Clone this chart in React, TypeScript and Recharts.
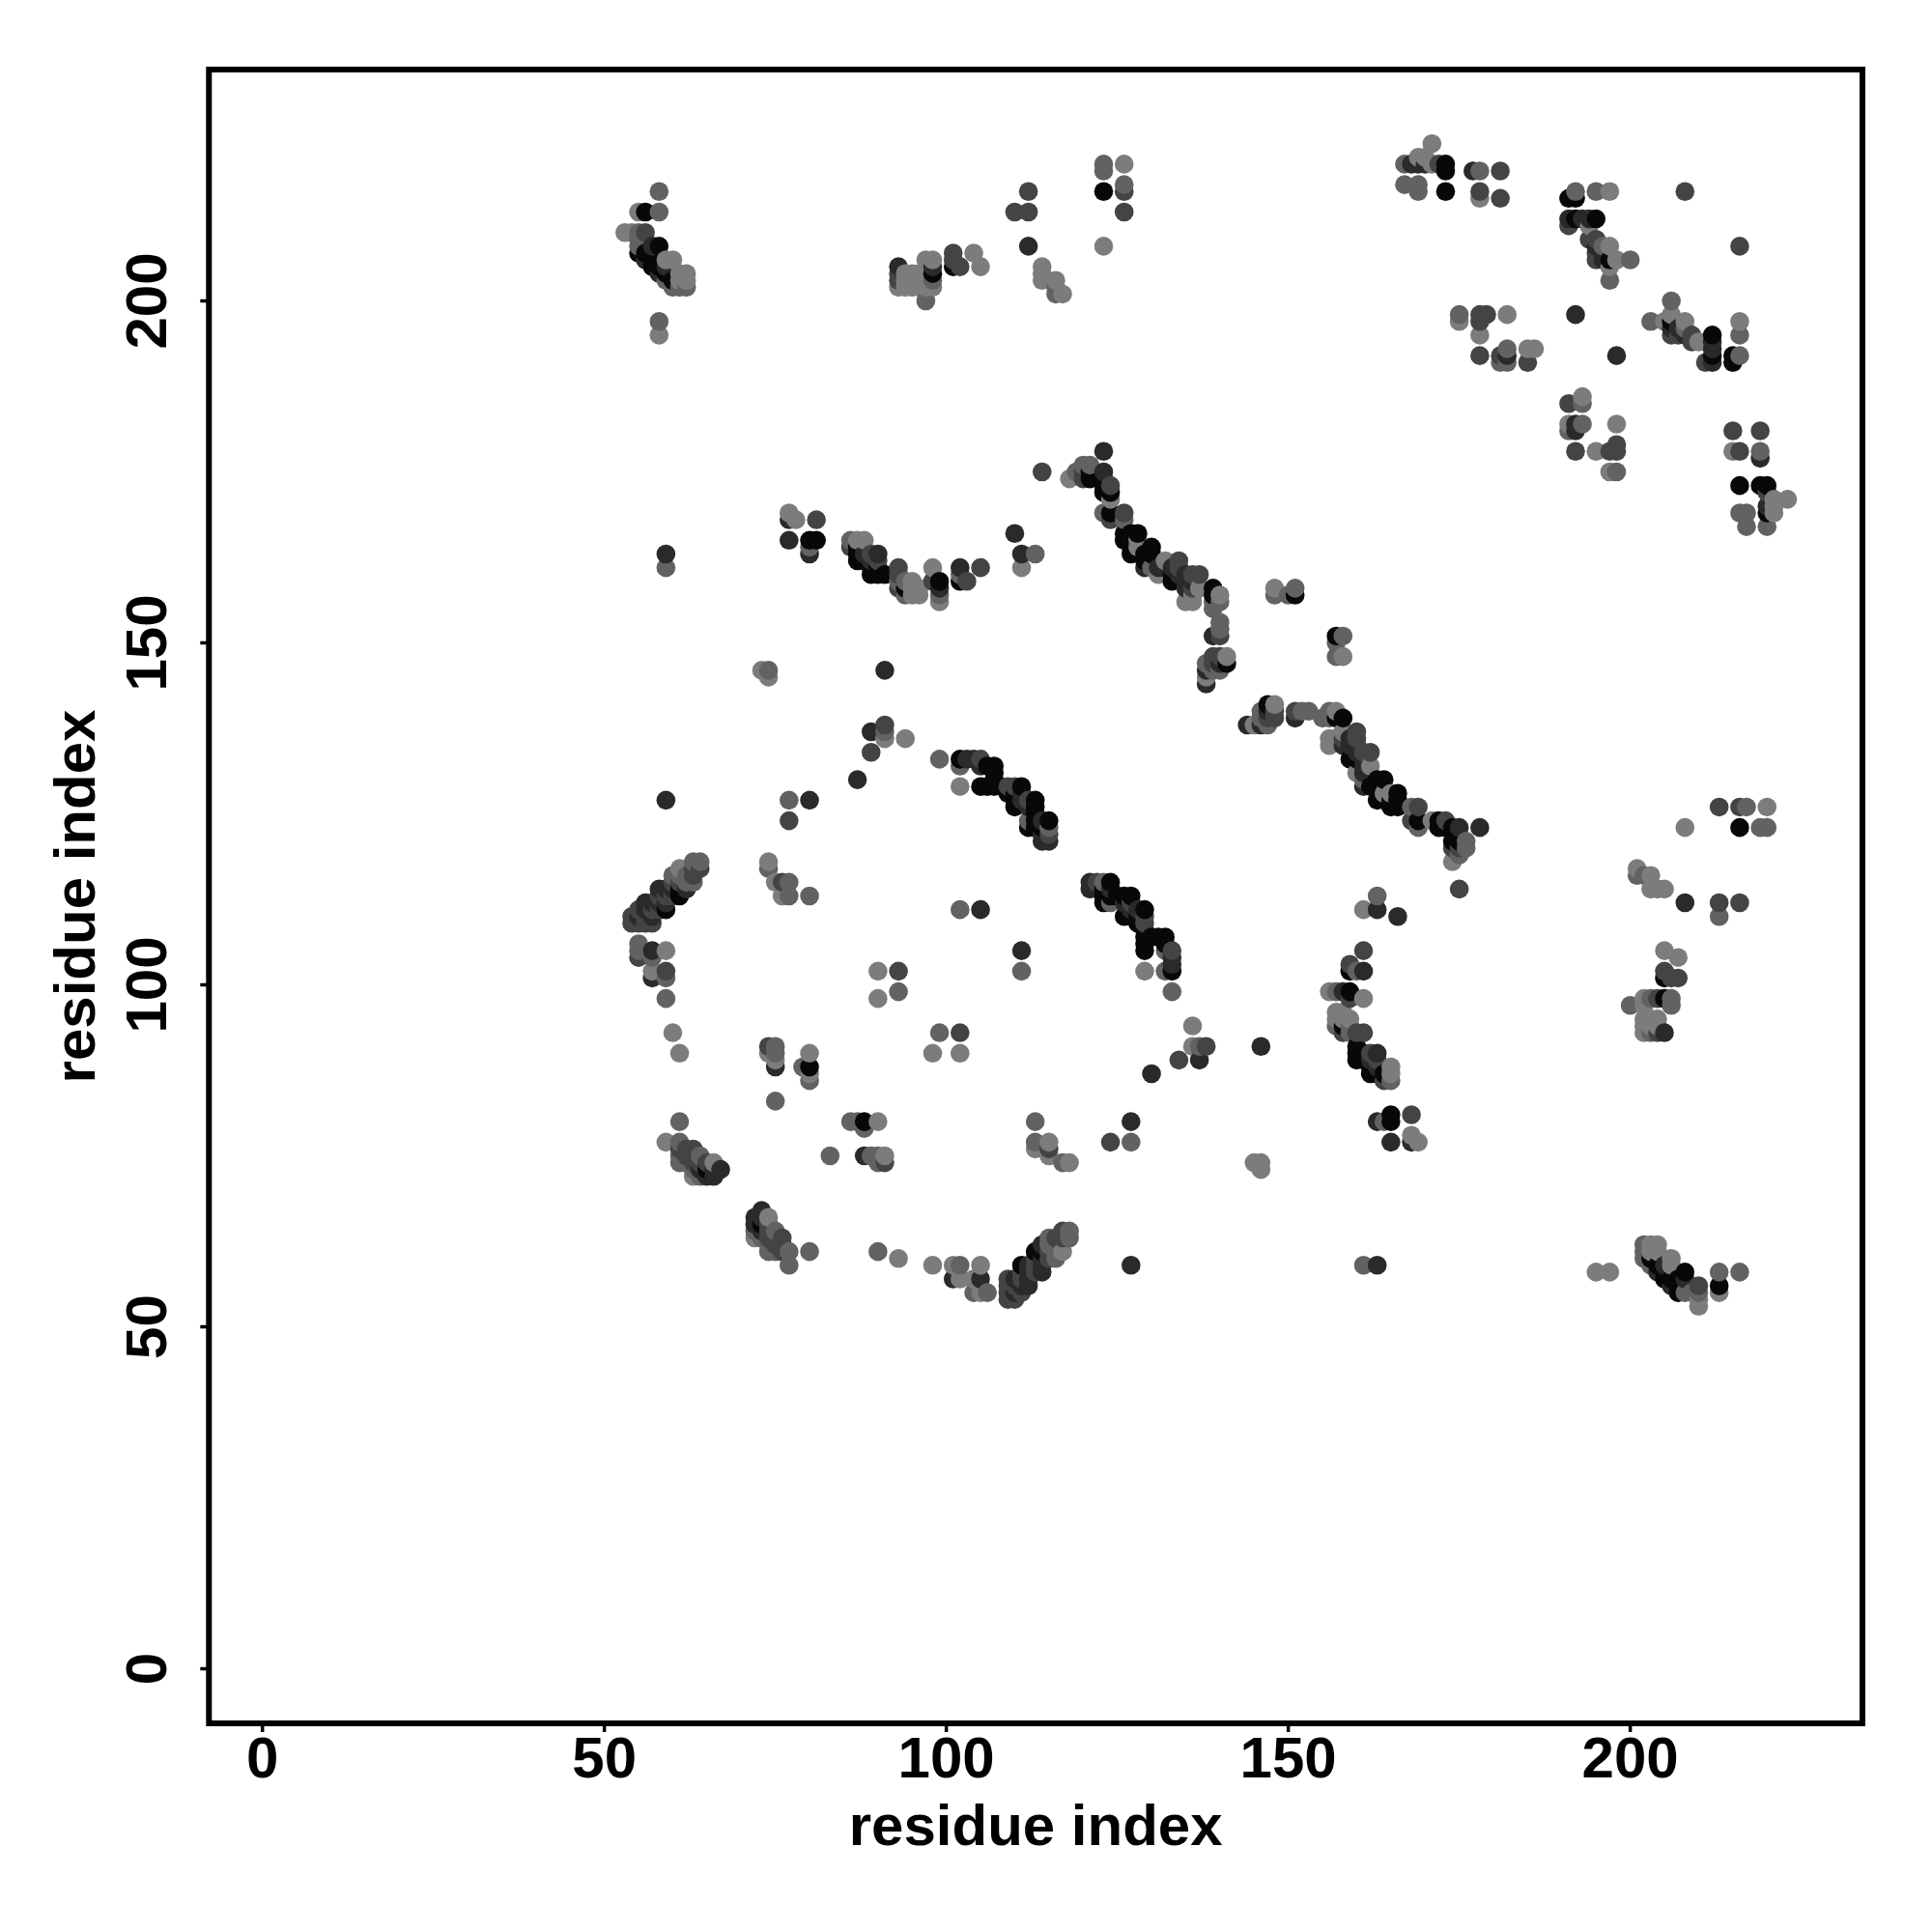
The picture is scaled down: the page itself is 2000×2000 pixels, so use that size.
import { ScatterChart, Scatter, XAxis, YAxis, ReferenceArea } from 'recharts';

type Contact = [number, number, number];

// contact strength classes, 1 = strongest
const SHADES = ['', '#080808', '#2a2a2a', '#444444', '#626262', '#7c7c7c'];
const TICKS = [0, 50, 100, 150, 200];
const X_DOMAIN = [-7.82, 233.95];
const Y_DOMAIN = [-7.98, 233.83];

const ridgeA: Contact[] = [[58,216,4],[55,213,5],[56,213,1],[58,213,4],[53,210,5],[54,210,5],[55,210,4],[56,210,3],[55,209,4],[55,208,4],[57,208,2],[58,208,1],[55,207,1],[56,207,1],[57,207,1],[56,206,2],[57,206,1],[59,206,5],[60,206,5],[57,205,1],[58,205,1],[59,205,2],[58,204,2],[59,204,1],[61,204,5],[62,204,5],[59,203,4],[60,203,1],[61,203,5],[62,203,5],[60,202,4],[61,202,4],[62,202,4],[58,197,4],[58,195,5]];
const ridgeAm: Contact[] = [[216,58,4],[213,58,4],[213,56,1],[213,55,5],[210,53,5],[210,54,5],[210,55,4],[210,56,3],[209,55,4],[208,55,4],[208,57,2],[208,58,1],[207,55,1],[207,56,1],[207,57,1],[206,56,2],[206,57,1],[206,59,5],[206,60,5],[205,57,1],[205,58,1],[205,59,2],[204,58,2],[204,59,1],[204,61,5],[204,62,5],[203,59,4],[203,60,1],[203,61,5],[203,62,5],[202,60,4],[202,61,4],[202,62,4],[197,58,5],[195,58,5]];
const blockB: Contact[] = [[93,205,2],[93,204,3],[93,203,3],[93,202,5],[94,204,5],[94,203,5],[94,202,5],[95,204,5],[95,203,5],[95,202,5],[96,204,5],[96,202,5],[97,206,5],[98,206,5],[98,205,2],[98,204,1],[98,203,4],[98,202,5],[97,202,5],[97,200,4],[101,207,3],[101,206,3],[101,205,1],[102,205,3],[104,207,5],[105,205,5]];
const blockBm: Contact[] = [[205,93,2],[204,93,3],[203,93,4],[202,93,5],[204,95,5],[203,95,5],[202,95,5],[204,94,5],[203,94,5],[202,94,5],[206,97,4],[206,98,4],[205,98,1],[204,98,3],[203,98,4],[202,98,5],[202,97,5],[200,97,4],[207,101,3],[206,101,3],[205,101,1],[205,102,3],[207,104,5],[205,105,5]];
const groupC: Contact[] = [[112,216,3],[110,213,3],[112,213,3],[112,208,2],[114,205,5],[114,204,5],[114,203,5],[116,203,5],[116,202,4],[116,201,4],[117,201,5]];
const groupCm: Contact[] = [[216,112,3],[213,110,4],[213,112,3],[208,112,2],[205,114,5],[204,114,5],[203,114,5],[203,116,5],[202,116,4],[201,116,4],[201,117,5]];
const groupD: Contact[] = [[123,220,4],[123,219,4],[123,216,1],[126,220,5],[126,217,4],[126,216,3],[126,213,3],[123,208,5]];
const groupDm: Contact[] = [[220,123,4],[219,123,4],[216,123,1],[220,126,5],[217,126,4],[216,126,3],[213,126,3],[208,123,5]];
const groupE: Contact[] = [[171,223,5],[167,220,4],[169,221,5],[170,221,5],[168,220,2],[169,220,2],[170,220,2],[171,220,5],[172,220,3],[173,220,1],[173,219,1],[167,217,4],[169,217,4],[169,216,4],[173,216,1],[177,219,2],[178,219,4],[181,219,3],[178,216,3],[178,215,5],[181,215,3]];
const groupEm: Contact[] = [[223,171,5],[220,167,4],[221,169,5],[221,170,5],[220,169,1],[220,170,2],[221,171,5],[220,172,3],[220,173,1],[219,173,1],[217,167,4],[217,169,4],[216,169,4],[216,173,1],[219,177,2],[219,178,4],[219,181,3],[216,178,3],[215,178,5],[215,181,3]];
const ridgeF: Contact[] = [[192,216,4],[195,216,4],[197,216,5],[191,215,1],[192,215,1],[191,212,2],[192,212,1],[193,212,2],[194,212,2],[195,212,1],[191,211,3],[194,211,5],[194,209,3],[195,209,3],[195,208,2],[196,208,4],[197,208,5],[195,207,3],[196,207,2],[195,206,3],[196,206,2],[197,206,1],[198,206,5],[200,206,4],[197,205,5],[197,203,4],[208,216,3]];
const ridgeFm: Contact[] = [[216,192,4],[216,195,4],[216,197,5],[215,191,1],[215,192,1],[212,191,2],[212,192,1],[212,193,2],[212,194,2],[212,195,1],[211,191,3],[211,194,5],[209,194,3],[209,195,3],[208,195,2],[208,196,4],[208,197,5],[207,195,3],[207,196,2],[206,195,3],[206,196,2],[206,197,1],[206,198,5],[206,200,4],[205,197,5],[203,197,4],[216,208,3],[210,194,5]];
const groupG: Contact[] = [[175,198,4],[175,197,5],[178,198,3],[179,198,3],[178,197,3],[182,198,5],[178,195,5],[178,192,3],[181,192,3],[182,193,4],[182,192,2],[181,191,4],[182,191,4],[185,193,5],[186,193,5],[185,191,3],[192,198,2]];
const groupGm: Contact[] = [[198,175,4],[197,175,5],[198,178,3],[198,179,3],[197,178,3],[198,182,5],[195,178,5],[192,178,3],[192,181,2],[193,182,4],[192,182,2],[191,181,4],[191,182,5],[193,185,4],[193,186,5],[191,185,3],[198,192,2]];
const ridgeI: Contact[] = [[114,175,3],[118,174,5],[119,175,4],[120,176,4],[121,176,4],[120,175,3],[120,174,3],[121,175,1],[121,174,1],[123,178,2],[123,175,2],[123,174,1],[123,173,1],[123,172,1],[124,173,3],[124,172,1],[124,171,5],[123,169,4],[124,169,1],[124,168,3],[126,169,3],[126,168,4],[126,166,1],[126,165,1],[127,166,1],[128,166,1],[127,165,1],[127,164,1],[127,163,1],[128,165,5],[128,164,5],[130,164,1],[130,163,1],[129,163,1],[129,162,1],[129,161,2],[130,161,4],[131,161,2],[131,160,5],[132,162,5],[132,161,2],[133,160,1],[133,159,1],[133,161,2],[134,162,3],[134,161,3],[134,160,2],[135,160,2],[135,159,2],[135,158,2],[136,160,3],[137,160,3],[136,159,2],[136,158,3],[135,156,5],[136,156,5],[136,157,5],[137,158,5],[139,158,1],[139,157,1],[140,157,5],[139,156,4],[140,156,4],[139,155,4],[140,153,4],[140,152,4],[139,151,2],[140,151,3],[141,148,5],[140,148,3],[139,148,3],[141,147,1],[140,147,2],[139,147,3],[138,147,4],[140,146,4],[139,146,4],[138,146,2],[138,145,5],[138,144,2]];
const ridgeIm: Contact[] = [[175,114,3],[174,118,5],[175,119,4],[176,120,4],[176,121,4],[175,120,3],[174,120,3],[175,121,1],[174,121,1],[178,123,2],[175,123,2],[174,123,1],[173,123,1],[172,123,1],[173,124,3],[172,124,1],[171,124,5],[169,123,4],[169,124,1],[168,124,3],[169,126,3],[168,126,4],[166,126,1],[165,126,1],[166,127,1],[166,128,1],[165,127,1],[164,127,1],[163,127,1],[165,128,5],[164,128,5],[164,130,1],[163,130,1],[163,129,1],[162,129,1],[161,129,2],[161,130,4],[161,131,2],[160,131,5],[162,132,5],[161,132,2],[160,133,1],[159,133,1],[161,133,2],[162,134,3],[161,134,3],[160,134,2],[160,135,2],[159,135,2],[158,135,2],[160,136,3],[160,137,3],[159,136,2],[158,136,3],[156,135,5],[156,136,5],[157,136,5],[158,137,5],[158,139,1],[157,139,1],[157,140,5],[156,139,4],[156,140,4],[155,139,4],[153,140,4],[152,140,4],[151,139,2],[151,140,3],[148,141,5],[148,140,3],[148,139,3],[147,141,1],[147,140,2],[147,139,3],[147,138,4],[146,140,4],[146,139,4],[146,138,2],[145,138,5],[144,138,2]];
const groupK: Contact[] = [[77,169,5],[78,168,5],[77,168,2],[81,168,3],[77,165,2],[80,165,1],[81,165,1],[80,164,4],[80,163,2]];
const groupKm: Contact[] = [[169,77,5],[168,78,5],[168,77,2],[168,81,3],[165,77,2],[165,80,1],[165,81,1],[164,80,4],[163,80,2]];
const arcL: Contact[] = [[86,165,4],[87,165,5],[88,165,5],[86,164,3],[87,164,1],[87,163,1],[88,163,2],[89,163,3],[90,163,2],[87,162,1],[88,162,1],[89,162,2],[90,162,3],[89,161,1],[90,161,1],[89,160,1],[90,160,1],[91,160,1],[93,161,3],[93,160,3],[93,159,4],[93,158,3],[94,159,4],[95,159,5],[94,158,1],[96,158,5],[95,158,5],[94,157,4],[95,157,5],[96,157,5],[98,161,5],[98,159,3],[99,159,1],[99,158,2],[99,157,4],[99,156,5],[102,161,2],[102,160,4],[102,159,1],[103,159,3],[105,161,3],[110,166,2],[111,163,2],[113,163,4],[111,161,5]];
const arcLm: Contact[] = [[165,86,4],[165,87,5],[165,88,5],[164,86,3],[164,87,1],[163,87,1],[163,88,2],[163,89,3],[163,90,2],[162,87,1],[162,88,1],[162,89,2],[162,90,3],[161,89,1],[161,90,1],[160,89,1],[160,90,1],[160,91,1],[161,93,3],[160,93,3],[159,93,4],[158,93,3],[159,94,4],[159,95,5],[158,94,1],[158,96,5],[158,95,5],[157,94,4],[157,95,5],[157,96,5],[161,98,5],[159,98,3],[159,99,1],[158,99,2],[157,99,4],[156,99,5],[161,102,2],[160,102,4],[159,102,1],[159,103,3],[161,105,3],[166,110,2],[163,111,2],[163,113,4],[161,111,5]];
const groupM: Contact[] = [[59,163,2],[59,161,4],[148,158,5],[151,158,4],[148,157,4],[150,157,4],[151,157,1],[73,146,5],[74,146,4],[74,145,5],[91,146,2],[89,137,2],[91,138,3],[91,137,4],[91,136,5],[94,136,5],[89,134,3],[87,130,2]];
const groupMm: Contact[] = [[163,59,2],[161,59,4],[158,148,5],[158,151,4],[157,148,4],[157,150,4],[157,151,1],[146,73,5],[146,74,5],[145,74,5],[146,91,2],[137,89,2],[138,91,3],[137,91,4],[136,91,5],[136,94,5],[134,89,3],[130,87,2]];
const arcO: Contact[] = [[99,133,4],[102,133,1],[103,133,2],[104,133,2],[105,133,3],[102,132,4],[105,132,2],[106,132,1],[107,132,1],[107,131,1],[107,130,1],[102,129,5],[105,129,1],[106,129,1],[107,129,1],[108,129,1],[109,129,3],[110,129,3],[111,129,1],[109,128,1],[110,128,1],[110,127,1],[110,126,1],[111,128,2],[111,127,2],[112,127,3],[113,127,1],[112,126,2],[113,126,1],[113,125,1],[112,124,4],[112,123,1],[113,124,1],[114,124,2],[113,123,1],[114,123,1],[115,124,1],[115,123,4],[114,121,2],[115,121,2],[114,122,2],[115,122,3]];
const arcOm: Contact[] = [[133,99,4],[133,102,1],[133,103,2],[133,104,2],[133,105,3],[132,102,4],[132,105,4],[132,106,1],[132,107,1],[131,107,1],[130,107,1],[129,102,5],[129,105,1],[129,106,1],[129,107,1],[129,108,1],[129,109,3],[129,110,3],[129,111,1],[128,109,1],[128,110,1],[127,110,1],[126,110,1],[128,111,2],[127,111,2],[127,112,3],[127,113,1],[126,112,2],[126,113,1],[125,113,1],[124,112,4],[123,112,1],[124,113,1],[124,114,2],[123,113,1],[123,114,1],[124,115,1],[123,115,4],[121,114,2],[121,115,2],[122,114,2],[122,115,3]];
const lobeP: Contact[] = [[54,110,3],[54,109,3],[55,110,2],[55,109,3],[55,111,3],[56,112,2],[56,111,2],[56,110,3],[56,109,3],[57,112,2],[57,111,3],[57,110,2],[57,109,3],[58,114,2],[58,113,3],[58,112,2],[58,111,3],[59,114,2],[59,113,3],[59,112,2],[59,111,1],[60,116,4],[60,115,3],[60,114,2],[60,113,3],[61,117,5],[61,116,4],[61,115,3],[61,114,1],[61,113,1],[62,116,4],[62,115,4],[62,114,2],[63,118,4],[63,117,3],[63,116,3],[63,115,4],[64,118,4],[64,117,3]];
const lobePm: Contact[] = [[110,54,3],[109,54,3],[110,55,2],[109,55,3],[111,55,3],[112,56,2],[111,56,2],[110,56,3],[109,56,3],[112,57,2],[111,57,3],[110,57,2],[109,57,3],[114,58,2],[113,58,3],[112,58,2],[111,58,3],[114,59,2],[113,59,3],[112,59,2],[111,59,1],[116,60,4],[115,60,3],[114,60,2],[113,60,3],[117,61,5],[116,61,4],[115,61,3],[114,61,1],[113,61,1],[116,62,4],[115,62,4],[114,62,2],[118,63,4],[117,63,3],[116,63,3],[115,63,4],[118,64,4],[117,64,3]];
const groupQ: Contact[] = [[55,106,4],[55,105,4],[55,104,3],[57,105,2],[59,105,5],[57,104,4],[57,102,5],[59,102,3],[59,101,4],[57,101,2],[59,98,4],[60,93,5],[61,90,5],[59,127,2],[77,127,4],[80,127,2],[77,124,3],[74,118,5],[74,117,4],[75,115,5],[76,115,3],[77,115,4],[76,113,5],[77,113,4],[80,113,4],[102,111,4],[105,111,2],[90,102,5],[93,102,3],[90,98,5],[93,99,4]];
const groupQm: Contact[] = [[106,55,4],[105,55,5],[104,55,4],[105,57,2],[105,59,5],[104,57,5],[102,57,5],[102,59,4],[101,59,5],[101,57,2],[98,59,5],[93,60,5],[90,61,4],[127,59,2],[127,77,4],[127,80,2],[124,77,3],[118,74,5],[117,74,4],[115,75,5],[115,76,3],[115,77,5],[113,76,5],[113,77,4],[113,80,4],[111,102,4],[111,105,2],[102,90,5],[102,93,3],[98,90,5],[99,93,4]];
const groupW: Contact[] = [[74,91,3],[75,91,4],[74,90,5],[75,90,4],[75,89,5],[75,88,2],[80,90,5],[79,88,4],[80,88,1],[80,87,5],[80,86,4],[75,83,4]];
const groupWm: Contact[] = [[91,74,3],[91,75,5],[90,74,4],[90,75,4],[89,75,4],[88,75,2],[90,80,5],[88,79,4],[88,80,1],[87,80,4],[86,80,4],[83,75,4]];
const groupX: Contact[] = [[61,80,4],[59,77,5],[61,77,4],[61,76,3],[61,75,4],[61,74,4],[62,76,3],[62,75,3],[63,76,3],[63,75,3],[63,74,3],[62,74,4],[63,73,4],[63,72,5],[64,75,4],[64,74,3],[64,73,2],[64,72,4],[65,74,3],[65,73,1],[65,72,2],[66,74,5],[66,73,2],[66,72,2],[67,73,2]];
const groupXm: Contact[] = [[80,61,4],[77,59,4],[77,61,4],[76,61,3],[75,61,4],[74,61,4],[76,62,3],[75,62,3],[76,63,3],[75,63,3],[74,63,3],[74,62,4],[73,63,4],[72,63,5],[75,64,4],[74,64,3],[73,64,2],[72,64,4],[74,65,3],[73,65,1],[72,65,2],[74,66,5],[73,66,2],[72,66,2],[73,67,2]];

// the original plotted column by column, so later columns sit on top
const contacts = [
  ridgeA, ridgeAm, blockB, blockBm, groupC, groupCm, groupD, groupDm, groupE, groupEm,
  ridgeF, ridgeFm, groupG, groupGm, ridgeI, ridgeIm, groupK, groupKm, arcL, arcLm,
  groupM, groupMm, arcO, arcOm, lobeP, lobePm, groupQ, groupQm, groupW, groupWm, groupX, groupXm,
]
  .flat()
  .map(([x, y, level]) => ({ x, y, level }))
  .sort((a, b) => a.x - b.x || a.y - b.y);

const TEXT_STYLE = { fontFamily: '"Liberation Sans", Arial, sans-serif', fontWeight: 700, fontSize: 60, fill: '#000' };

function ContactDot(props: any) {
  return <circle cx={props.cx} cy={props.cy} r={9.8} fill={SHADES[props.payload.level]} />;
}

function XTick({ x, y, payload }: any) {
  return (
    <text x={x} y={y + 44} textAnchor="middle" {...TEXT_STYLE}>
      {payload.value}
    </text>
  );
}

function YTick({ x, y, payload }: any) {
  return (
    <text x={x} y={y} textAnchor="middle" transform={`rotate(-90 ${x} ${y})`} {...TEXT_STYLE}>
      {payload.value}
    </text>
  );
}

export default function App() {
  return (
    <div style={{ position: 'absolute', left: 0, top: 0, width: 2000, height: 2000, background: '#fff' }}>
      <ScatterChart width={2000} height={2000} margin={{ top: 72, right: 72, bottom: 0, left: 0 }}>
        <XAxis
          type="number"
          dataKey="x"
          domain={X_DOMAIN}
          ticks={TICKS}
          height={216}
          axisLine={false}
          tickSize={9}
          tickMargin={3}
          tickLine={{ stroke: '#000', strokeWidth: 3.5 }}
          tick={XTick}
          interval={0}
          label={{ value: 'residue index', position: 'insideBottom', offset: 90, ...TEXT_STYLE }}
        />
        <YAxis
          type="number"
          dataKey="y"
          domain={Y_DOMAIN}
          ticks={TICKS}
          width={216.3}
          axisLine={false}
          tickSize={9}
          tickMargin={35}
          tickLine={{ stroke: '#000', strokeWidth: 3.5 }}
          tick={YTick}
          interval={0}
          label={{ value: 'residue index', angle: -90, position: 'insideLeft', offset: 77, style: { textAnchor: 'middle' }, ...TEXT_STYLE }}
        />
        <Scatter data={contacts} shape={ContactDot} isAnimationActive={false} />
        <ReferenceArea
          x1={X_DOMAIN[0]}
          x2={X_DOMAIN[1]}
          y1={Y_DOMAIN[0]}
          y2={Y_DOMAIN[1]}
          fill="none"
          stroke="#000"
          strokeWidth={6}
          ifOverflow="visible"
        />
      </ScatterChart>
    </div>
  );
}
